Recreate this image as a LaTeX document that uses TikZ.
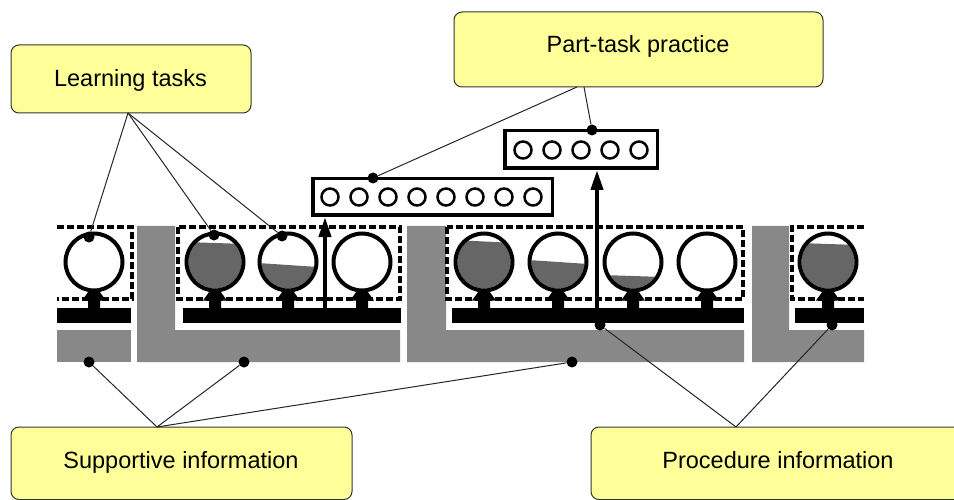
\documentclass[tikz,border=0pt]{standalone}
\usepackage{fontspec}
\setmainfont{Liberation Sans}
\usetikzlibrary{calc,arrows.meta}
\definecolor{lblfill}{HTML}{FFFF99}
\definecolor{lbldraw}{HTML}{333333}
\definecolor{barg}{HTML}{888888}
\definecolor{lvlg}{HTML}{666666}
\newcommand\lvfill[4]{%
  \begin{scope}
    \clip (#1,#2) circle (26.5);
    \fill[lvlg] ({#1-30},#3) -- ({#1+30},#4) -- ({#1+30},{#2+31}) -- ({#1-30},{#2+31}) -- cycle;
  \end{scope}}
\newcommand\pedestal[1]{%
  \fill ($(#1.south)+(-5.5,-1)$) -- ($(#1.south)+(5.5,-1)$) -- ($(#1.south)+(12,8)$) -- ($(#1.south)+(6,8)$)
     -- ($(#1.south)+(6,17)$) -- ($(#1.south)+(-6,17)$) -- ($(#1.south)+(-6,8)$) -- ($(#1.south)+(-12,8)$) -- cycle;}
\begin{document}
\begin{tikzpicture}[x=1pt,y=-1pt,
  lbox/.style={draw=lbldraw, fill=lblfill, line width=1pt, rounded corners=8pt, inner sep=0pt},
  ltxt/.style={font=\fontsize{23.5}{28}\selectfont, inner sep=0pt, text=black},
  dbox/.style={line width=3.5pt, dash pattern=on 7pt off 3pt},
  bigc/.style={circle, draw, line width=4pt, minimum size=57pt, inner sep=0pt},
  smallc/.style={circle, draw, line width=2.5pt, minimum size=17pt, inner sep=0pt},
  pbox/.style={draw, line width=3.5pt, inner sep=0pt, fill=white},
  dot/.style={circle, fill=black, inner sep=0pt, minimum size=11pt},
  conn/.style={draw=black!85, line width=1pt},
  uparrow/.style={line width=4pt, -{Triangle[length=20pt,width=12pt]}}
]
\useasboundingbox (0,0) rectangle (954,500);

% gray supportive shapes
\fill[barg] (57,330) rectangle (131,362);
\fill[barg] (137,226) -- (175,226) -- (175,330) -- (400,330) -- (400,362) -- (137,362) -- cycle;
\fill[barg] (407,226) -- (446,226) -- (446,330) -- (744,330) -- (744,362) -- (407,362) -- cycle;
\fill[barg] (752,226) -- (789,226) -- (789,330) -- (864,330) -- (864,362) -- (752,362) -- cycle;

% black procedure bars
\fill (57,308) rectangle (131,323);
\fill (183,308) rectangle (401,323);
\fill (452,308) rectangle (744,323);
\fill (795,308) rectangle (864,323);

% dashed task-class boxes
\draw[dbox] (57,227) -- (132,227) -- (132,299) -- (57,299);
\draw[dbox] (178,227) rectangle (400,299);
\draw[dbox] (447,227) rectangle (743,299);
\draw[dbox] (864,227) -- (792,227) -- (792,299) -- (864,299);

% level fills
\lvfill{215}{262}{242}{244}
\lvfill{288}{262}{263}{267}
\lvfill{484}{262}{240}{243}
\lvfill{558}{262}{260}{264}
\lvfill{633}{262}{275}{277}
\lvfill{828}{262}{243}{245}

% learning task circles
\node[bigc] (c1) at (94,262) {};
\node[bigc] (c2) at (215,262) {};
\node[bigc] (c3) at (288,262) {};
\node[bigc] (c4) at (362,262) {};
\node[bigc] (c5) at (484,262) {};
\node[bigc] (c6) at (558,262) {};
\node[bigc] (c7) at (633,262) {};
\node[bigc] (c8) at (707,262) {};
\node[bigc] (c9) at (828,262) {};
\foreach \c in {c1,c2,c3,c4,c5,c6,c7,c8,c9} {\pedestal{\c}}

% part-task practice boxes
\node[pbox, minimum width=239.5pt, minimum height=36.5pt] (pA) at (432.5,197) {};
\node[pbox, minimum width=152.5pt, minimum height=37.5pt] (pB) at (581,149.5) {};
\foreach \i in {0,...,7} {\node[smallc] (a\i) at ({330+29*\i},197) {};}
\foreach \i in {0,...,4} {\node[smallc] (b\i) at ({523+29*\i},150) {};}

% arrows up to practice
\coordinate (arA) at (325,308);
\coordinate (arB) at (597,308);
\draw[uparrow] (arA) -- (arA |- pA.south);
\draw[uparrow] (arB) -- (arB |- pB.south);

% label boxes
\node[lbox, minimum width=240pt, minimum height=68pt] (LT) at (131,79) {};
\node[ltxt, anchor=base] (LTt) at (130.5,87) {Learning tasks};
\node[lbox, minimum width=369pt, minimum height=75pt] (PT) at (638.5,49.5) {};
\node[ltxt, anchor=base] (PTt) at (638,53) {Part-task practice};
\node[lbox, minimum width=341pt, minimum height=72.5pt] (SI) at (181.5,463.25) {};
\node[ltxt, anchor=base] (SIt) at (181,468) {Supportive information};
\node[lbox, minimum width=374pt, minimum height=72.5pt] (PI) at (778,463.25) {};
\node[ltxt, anchor=base] (PIt) at (778,468) {Procedure information};

% connection points
\coordinate (LTb) at (128,113);
\coordinate (PTb1) at (577,87);
\coordinate (PTb2) at (584,87);
\coordinate (SIa) at (157,427);
\coordinate (PIa) at (736,427);

% dots
\node[dot] (d1) at (89,237) {};
\node[dot] (d2) at (214,235) {};
\node[dot] (d3) at (282,236) {};
\node[dot] (dA) at (373,178) {};
\node[dot] (dB) at (592,130) {};
\node[dot] (s1) at (89,362) {};
\node[dot] (s2) at (244,362) {};
\node[dot] (s3) at (572,362) {};
\node[dot] (p1) at (600,325) {};
\node[dot] (p2) at (832,325) {};

% connectors
\draw[conn] (LTb) -- (d1);
\draw[conn] (LTb) -- (d2);
\draw[conn] (LTb) -- (d3);
\draw[conn] (PTb1) -- (dA);
\draw[conn] (PTb2) -- (dB);
\draw[conn] (SIa) -- (s1);
\draw[conn] (SIa) -- (s2);
\draw[conn] (SIa) -- (s3);
\draw[conn] (PIa) -- (p1);
\draw[conn] (PIa) -- (p2);
\end{tikzpicture}
\end{document}
